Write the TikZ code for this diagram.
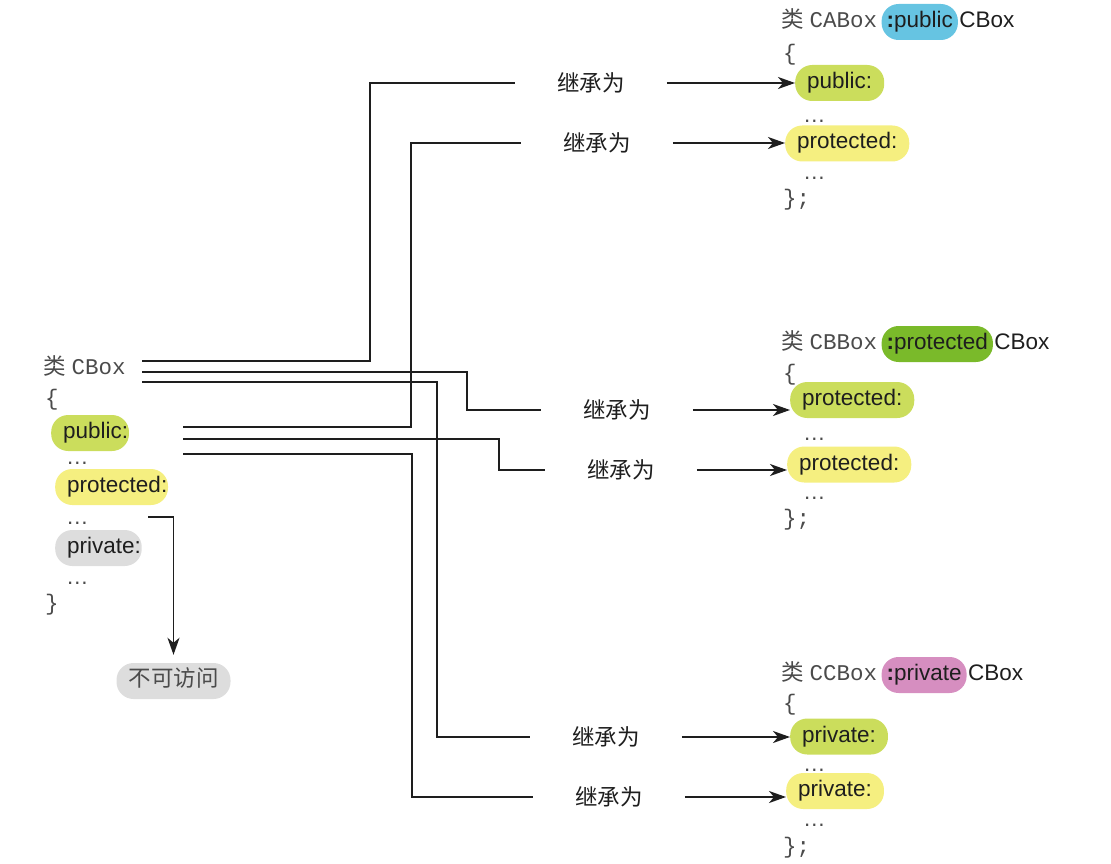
\documentclass[tikz,border=0pt]{standalone}
\usepackage{fontspec}
\setmainfont{Liberation Sans}
\setmonofont{Liberation Mono}
\newfontfamily\cjk{Noto Sans CJK SC}
\usepackage{tikz}
\usetikzlibrary{arrows.meta}
\usetikzlibrary{positioning}
\definecolor{pubgreen}{RGB}{203,221,92}
\definecolor{protyellow}{RGB}{245,239,128}
\definecolor{privgray}{RGB}{221,221,221}
\definecolor{inhblue}{RGB}{102,196,226}
\definecolor{inhgreen}{RGB}{122,186,42}
\definecolor{inhpink}{RGB}{214,142,192}
\definecolor{codegray}{RGB}{75,75,75}
\definecolor{inkblack}{RGB}{30,30,30}

\begin{document}
\begin{tikzpicture}[x=1pt,y=-1pt,>={Stealth[length=17pt,width=12pt,inset=5pt]},
  pill/.style={rounded corners=17pt,minimum height=36pt,inner xsep=12pt,inner ysep=0pt,
    text height=16pt,text depth=5pt,text=inkblack,anchor=west},
  src/.style={pill,inner xsep=7pt},
  txt/.style={inner sep=0pt,text height=16pt,text depth=5pt,anchor=west,text=codegray},
  via/.style={font=\cjk,inner xsep=42pt,inner ysep=2pt,text=inkblack},
  link/.style={line width=1.8pt,draw=inkblack}]
\fontsize{22.5pt}{26pt}\selectfont
\useasboundingbox (0,0) rectangle (1111,864);
% base class
\node[txt] (cbox) at (43,369) {{\cjk 类}\hspace{6pt}\texttt{CBox}};
\node[txt,font=\ttfamily] (lbr) at (45,400) {\{};
\node[src,fill=pubgreen] (pub) at (51,433) {\hspace*{5pt}public\rlap{:}};
\node[txt] (dots1) at (66,459) {\dots};
\node[src,fill=protyellow] (prot) at (55,487) {\hspace*{5pt}protected\rlap{:}};
\node[txt] (dots2) at (66,519) {\dots};
\node[src,fill=privgray] (priv) at (55,548) {\hspace*{5pt}private\rlap{:}};
\node[txt] (dots3) at (66,579) {\dots};
\node[txt,font=\ttfamily] (rbr) at (45,605) {\}};
\coordinate (s1) at (142,361);
\coordinate (s2) at (142,372);
\coordinate (s3) at (142,382);
\coordinate (s4) at (183,427);
\coordinate (s5) at (183,439);
\coordinate (s6) at (183,454);
\coordinate (cut) at (148,517);
\node[pill,fill=privgray,font=\cjk,text=codegray,inner xsep=12pt,anchor=center] (noacc) at (173.5,681) {不可访问};
% public CBox
\node[txt] (hdrA) at (781,22) {{\cjk 类}\hspace{6pt}\texttt{CABox}};
\node[pill,fill=inhblue,inner xsep=5pt,right=4pt of hdrA] (inhA) {\textbf{:}public};
\node[txt,text=inkblack,right=1pt of inhA] (baseA) {CBox};
\node[txt,font=\ttfamily] (lbrA) at (783,55) {\{};
\node[pill,fill=pubgreen] (pubA) at (795,83) {public:};
\node[txt] (dotsA1) at (803,117) {\dots};
\node[pill,fill=protyellow] (protA) at (785,143.5) {protected:};
\node[txt] (dotsA2) at (803,174) {\dots};
\node[txt,font=\ttfamily] (rbrA) at (783,200) {\};};
% protected CBox
\node[txt] (hdrB) at (781,344) {{\cjk 类}\hspace{6pt}\texttt{CBBox}};
\node[pill,fill=inhgreen,inner xsep=5pt,right=4pt of hdrB] (inhB) {\textbf{:}protected};
\node[txt,text=inkblack,right=1pt of inhB] (baseB) {CBox};
\node[txt,font=\ttfamily] (lbrB) at (783,375) {\{};
\node[pill,fill=pubgreen] (protB1) at (790,400) {protected:};
\node[txt] (dotsB1) at (803,435) {\dots};
\node[pill,fill=protyellow] (protB2) at (787,464.5) {protected:};
\node[txt] (dotsB2) at (803,494) {\dots};
\node[txt,font=\ttfamily] (rbrB) at (783,520) {\};};
% private CBox
\node[txt] (hdrC) at (781,675) {{\cjk 类}\hspace{6pt}\texttt{CCBox}};
\node[pill,fill=inhpink,inner xsep=5pt,right=4pt of hdrC] (inhC) {\textbf{:}private};
\node[txt,text=inkblack,right=1pt of inhC] (baseC) {CBox};
\node[txt,font=\ttfamily] (lbrC) at (783,705) {\{};
\node[pill,fill=pubgreen] (privC1) at (790,736.5) {private:};
\node[txt] (dotsC1) at (803,766) {\dots};
\node[pill,fill=protyellow] (privC2) at (786,791) {private:};
\node[txt] (dotsC2) at (803,821) {\dots};
\node[txt,font=\ttfamily] (rbrC) at (783,848) {\};};
% labels
\node[via] (viaA1) at (591,83) {继承为};
\node[via] (viaA2) at (597,143) {继承为};
\node[via] (viaB1) at (617,410) {继承为};
\node[via] (viaB2) at (621,470) {继承为};
\node[via] (viaC1) at (606,737) {继承为};
\node[via] (viaC2) at (609,797) {继承为};
\draw[link] (s1) -- ++(228,0) |- (viaA1.west);
\draw[link] (s2) -- ++(325,0) |- (viaB1.west);
\draw[link] (s3) -- ++(295,0) |- (viaC1.west);
\draw[link] (s4) -- ++(228,0) |- (viaA2.west);
\draw[link] (s5) -- ++(316,0) |- (viaB2.west);
\draw[link] (s6) -- ++(229,0) |- (viaC2.west);
\draw[link,->] (viaA1.east) -- (viaA1.east -| pubA.west);
\draw[link,->] (viaA2.east) -- (viaA2.east -| protA.west);
\draw[link,->] (viaB1.east) -- (viaB1.east -| protB1.west);
\draw[link,->] (viaB2.east) -- (viaB2.east -| protB2.west);
\draw[link,->] (viaC1.east) -- (viaC1.east -| privC1.west);
\draw[link,->] (viaC2.east) -- (viaC2.east -| privC2.west);
\draw[link,->,shorten >=8pt] (cut) -| (noacc.north);
\end{tikzpicture}
\end{document}
